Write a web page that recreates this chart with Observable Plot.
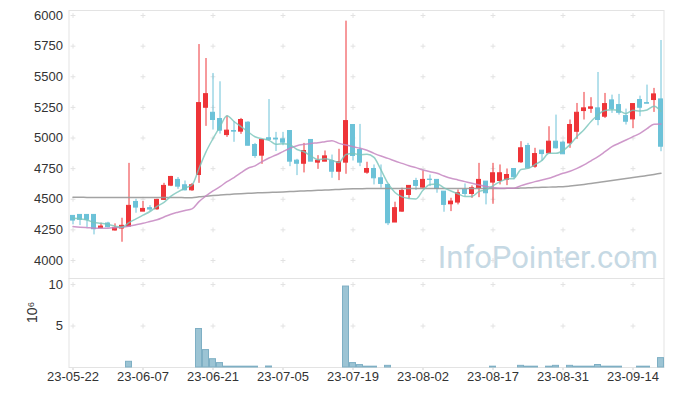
<!DOCTYPE html>
<html><head><meta charset="utf-8">
<script src="https://cdn.jsdelivr.net/npm/d3@7"></script>
<script src="https://cdn.jsdelivr.net/npm/@observablehq/plot@0.6"></script>
<style>
html,body{margin:0;padding:0;background:#fff;}
#chart{width:673px;height:396px;position:relative;}
#chart svg{display:block;}
#chart g[aria-label="x-axis tick"] path{stroke:#cfcfcf;}
</style></head><body><div id="chart"></div>
<script>
const dates = [
"23-05-22","23-05-23","23-05-24","23-05-25","23-05-26","23-05-30","23-05-31",
"23-06-01","23-06-02","23-06-05","23-06-07","23-06-08","23-06-09","23-06-12","23-06-13","23-06-14","23-06-15","23-06-16","23-06-19","23-06-20","23-06-21","23-06-22","23-06-23","23-06-26","23-06-27","23-06-28","23-06-29","23-06-30",
"23-07-03","23-07-04","23-07-05","23-07-06","23-07-07","23-07-10","23-07-11","23-07-12","23-07-13","23-07-14","23-07-17","23-07-18","23-07-19","23-07-20","23-07-21","23-07-24","23-07-25","23-07-26","23-07-27","23-07-28","23-07-31",
"23-08-01","23-08-02","23-08-03","23-08-04","23-08-07","23-08-08","23-08-09","23-08-10","23-08-11","23-08-14","23-08-16","23-08-17","23-08-18","23-08-21","23-08-22","23-08-23","23-08-24","23-08-25","23-08-28","23-08-29","23-08-30","23-08-31",
"23-09-01","23-09-04","23-09-05","23-09-06","23-09-07","23-09-08","23-09-11","23-09-12","23-09-13","23-09-14","23-09-15","23-09-18","23-09-19","23-09-20"];

const open = [4364,4372,4372,4372,4264,4302,4245,4261,4277,4478, 4399,4427,4418,4495,4611,4658,4614,4573,4698,5247, 5206,5155,5024,5057,5052,5125,4943,4856,4998,4995, 4989,5057,4815,4790,4984,4799,4807,4812,4725,4799, 5106,4902,4717,4747,4671,4617,4310,4399,4535,4649, 4595,4660,4658,4562,4459,4473,4576,4543,4590,4644, 4636,4649,4658,4747,4802,4935,4766,4897,4875,4970, 4962,4956,5051,5220,5239,5242,5174,5307,5269,5179, 5152,5310,5285,5310,5315];
const high = [4364,4372,4372,4372,4304,4312,4299,4345,4793,4500, 4481,4448,4500,4630,4687,4677,4649,4628,5763,5649, 5527,5459,5179,5133,5160,5133,4956,4984,5314,5046, 5046,5057,4826,4956,4984,4856,4894,4861,4908,5954, 5106,5111,4802,4780,4780,4617,4476,4590,4609,4671, 4731,4698,4658,4562,4508,4576,4625,4609,4793,4644, 4793,4780,4747,4747,4970,4956,4916,4897,5092,5187, 4975,5147,5282,5372,5329,5535,5364,5350,5356,5236, 5277,5342,5432,5405,5796];
const low = [4291,4285,4269,4209,4258,4266,4240,4149,4277,4386, 4399,4399,4410,4490,4603,4581,4568,4565,4630,5095, 5065,5032,5005,4965,5030,4935,4834,4785,4975,4890, 4937,4766,4693,4715,4807,4744,4807,4671,4652,4704, 4812,4766,4704,4617,4590,4285,4310,4394,4503,4571, 4590,4603,4549,4394,4399,4454,4522,4508,4513,4454, 4459,4617,4611,4658,4793,4747,4753,4812,4875,4910, 4867,4916,4989,5147,5201,5100,5160,5201,5187,5106, 5076,5174,5280,5209,4888];
const close = [4326,4332,4332,4255,4277,4272,4266,4283,4446,4432, 4421,4416,4495,4609,4682,4603,4573,4614,5285,5358, 5147,5060,5060,5052,5147,4937,4853,4984,4985,4988, 4962,4807,4790,4894,4807,4815,4850,4725,4802,5138, 4853,4799,4747,4671,4625,4304,4427,4568,4609,4609, 4658,4658,4584,4454,4481,4549,4543,4590,4658,4549, 4712,4712,4698,4679,4916,4753,4869,4869,4970,4916, 4867,5106,5206,5242,5250,5147,5277,5236,5206,5133, 5277,5247,5280,5356,4929];

// volume in millions of shares
const volume = [0.01,0.01,0.01,0.01,0.01,0.01,0.01,0.01,0.69,0.01, 0.01,0.01,0.01,0.01,0.01,0.01,0.01,0.01,4.64,2.1, 1.0,0.53,0.1,0.1,0.1,0.1,0.1,0.01,0.12,0.01, 0.01,0.01,0.01,0.01,0.01,0.01,0.01,0.01,0.01,9.76, 0.53,0.29,0.1,0.1,0.01,0.2,0.01,0.01,0.01,0.01, 0.01,0.01,0.01,0.01,0.01,0.01,0.01,0.01,0.01,0.01, 0.1,0.01,0.01,0.01,0.2,0.1,0.1,0.01,0.1,0.2, 0.01,0.2,0.1,0.1,0.1,0.3,0.1,0.1,0.1,0.01, 0.01,0.1,0.1,0.01,1.13];

const ma5 = [4345,4340,4331,4310,4304, 4294,4280,4271,4309,4340, 4370,4400,4442,4475,4525, 4561,4592,4616,4751,4887, 4995,5093,5182,5135,5093, 5051,5010,4995,4981,4949, 4954,4945,4906,4888,4852, 4823,4831,4818,4800,4866, 4874,4863,4868,4842,4739, 4629,4555,4519,4507,4503, 4574,4620,4624,4593,4567, 4545,4522,4523,4564,4578, 4610,4644,4666,4670,4743, 4752,4783,4817,4875,4875, 4898,4946,5013,5067,5134, 5190,5224,5230,5223,5200, 5226,5220,5229,5259,5218];
const ma20 = [4277,4272,4268,4264,4264, 4264,4268,4272,4280,4292, 4304,4318,4332,4355,4378, 4394,4408,4421,4481,4527, 4568,4603,4644,4677,4717, 4753,4772,4807,4837,4861, 4889,4916,4937,4948,4956, 4962,4970,4978,4956,4943, 4929,4916,4900,4875,4853, 4834,4812,4793,4774,4758, 4739,4725,4712,4690,4671, 4658,4644,4630,4617,4605, 4595,4590,4590,4590,4611, 4628,4644,4657,4671,4692, 4712,4728,4752,4780,4814, 4848,4888,4929,4957,4984, 5011,5038,5076,5113,5114];
const ma60 = [4516,4516,4515,4515,4515, 4514,4514,4514,4514,4514, 4514,4514,4514,4514,4514, 4514,4513,4513,4520,4525, 4530,4534,4538,4542,4545, 4548,4551,4554,4556,4558, 4560,4563,4565,4568,4570, 4573,4575,4578,4580,4583, 4585,4586,4587,4587,4588, 4588,4588,4588,4588,4588, 4588,4588,4588,4588,4588, 4588,4588,4588,4588,4588, 4588,4588,4589,4590,4591, 4593,4595,4597,4599,4601, 4603,4608,4614,4621,4629, 4637,4645,4653,4661,4669, 4677,4685,4694,4703,4712];

const xTicks = ["23-05-22","23-06-07","23-06-21","23-07-05","23-07-19","23-08-02","23-08-17","23-08-31","23-09-14"];
const priceTicks = [4000,4250,4500,4750,5000,5250,5500,5750,6000];
const volTicks = [5,10];

const RED = "#ee3438", BLUE = "#6cc2d8";
const FONT = "'Liberation Sans', Arial, sans-serif";

const rows = dates.map((d, i) => ({
  date: d, open: open[i], high: high[i], low: low[i], close: close[i],
  vol: volume[i], ma5: ma5[i], ma20: ma20[i], ma60: ma60[i],
  col: close[i] >= open[i] ? RED : BLUE
}));

const priceGrid = xTicks.flatMap(x => priceTicks.map(y => ({x, y})));
const volGrid = xTicks.flatMap(x => volTicks.map(y => ({x, y})));

const ML = 68.5, MR = 9.5;

const price = Plot.plot({
  width: 673, height: 278,
  marginTop: 10, marginBottom: 0, marginLeft: ML, marginRight: MR,
  style: {fontFamily: FONT, fontSize: "13px", color: "#333", background: "#fff", overflow: "visible"},
  x: {type: "band", domain: dates, padding: 0, axis: null},
  y: {domain: [3853, 6041], ticks: priceTicks, tickSize: 0, tickPadding: 6, label: null, tickFormat: d => String(d)},
  color: {type: "identity"},
  marks: [
    Plot.text(["InfoPointer.com"], {frameAnchor: "bottom-right", textAnchor: "end", lineAnchor: "bottom", dx: -6, dy: -11, fontSize: 31, fill: "#c6d9e4", fontFamily: "Roboto, sans-serif"}),
    Plot.dot(priceGrid, {x: "x", y: "y", symbol: "plus", r: 1.7, stroke: "#e2e2e2", strokeWidth: 1}),
    Plot.frame({stroke: "#e3e3e3"}),
    Plot.ruleX(rows, {x: "date", y1: "low", y2: "high", stroke: "col", strokeWidth: 1}),
    Plot.barY(rows, {x: "date", y1: "open", y2: "close", fill: "col", stroke: "col", strokeWidth: 1, insetLeft: 1.5, insetRight: 1.5}),
    Plot.line(rows, {x: "date", y: "ma60", stroke: "#999999", strokeWidth: 1.5, strokeOpacity: 0.9, curve: "monotone-x"}),
    Plot.line(rows, {x: "date", y: "ma20", stroke: "#c586c1", strokeWidth: 1.5, strokeOpacity: 0.85, curve: "monotone-x"}),
    Plot.line(rows, {x: "date", y: "ma5", stroke: "#78c4ba", strokeWidth: 1.5, strokeOpacity: 0.8, curve: "monotone-x"})
  ]
});

const vol = Plot.plot({
  width: 673, height: 118,
  marginTop: 0, marginBottom: 29, marginLeft: ML, marginRight: MR,
  style: {fontFamily: FONT, fontSize: "13px", color: "#333", background: "#fff", overflow: "visible"},
  x: {type: "band", domain: dates, padding: 0, ticks: xTicks, tickSize: 3, tickPadding: 1, label: null},
  y: {domain: [0, 10.73], ticks: volTicks, tickSize: 0, tickPadding: 6, label: null},
  marks: [
    Plot.dot(volGrid, {x: "x", y: "y", symbol: "plus", r: 1.7, stroke: "#e2e2e2", strokeWidth: 1}),
    Plot.frame({stroke: "#e3e3e3"}),
    Plot.barY(rows, {filter: d => d.vol >= 0.05, x: "date", y: "vol", fill: "#9cc4d4", stroke: "#7eafc4", strokeWidth: 1, insetLeft: 0.5, insetRight: 0.5}),
    Plot.text(["10⁶"], {frameAnchor: "left", dx: -36, rotate: -90, fontSize: 14, fill: "#333"})
  ]
});

const chart = document.getElementById("chart");
chart.appendChild(price);
chart.appendChild(vol);
</script>
</body></html>
